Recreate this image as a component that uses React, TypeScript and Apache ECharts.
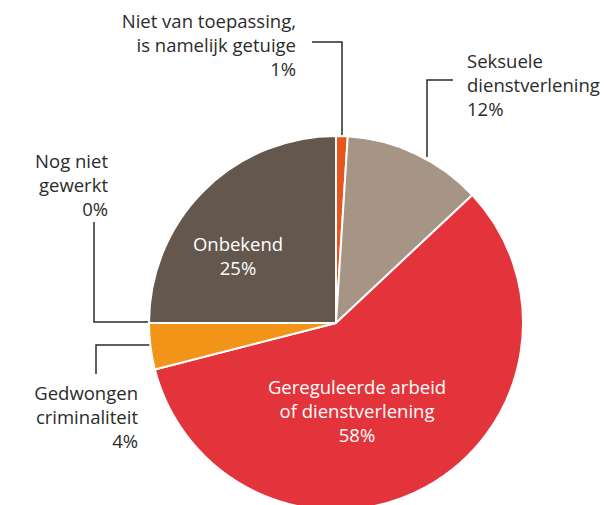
import React, { useEffect, useRef } from "react";
import * as echarts from "echarts";

const categories = [
  "Niet van toepassing,\nis namelijk getuige",
  "Seksuele\ndienstverlening",
  "Gereguleerde arbeid\nof dienstverlening",
  "Gedwongen\ncriminaliteit",
  "Nog niet\ngewerkt",
  "Onbekend",
];
const values = [1, 12, 58, 4, 0, 25];
const colors = ["#e8541e", "#a69585", "#e3343b", "#f29418", "#8a7a6c", "#64574e"];

const CX = 336;
const CY = 323;
const R = 187;

type Layout = {
  x: number;
  y: number;
  align: "left" | "right" | "center";
  inside: boolean;
  line?: number[][];
};
const layouts: Layout[] = [
  { x: 296, y: 8, align: "right", inside: false, line: [[342, 138], [342, 42], [312, 42]] },
  { x: 467, y: 48, align: "left", inside: false, line: [[427, 157], [427, 80], [453, 80]] },
  { x: 357, y: 374, align: "center", inside: true },
  { x: 138, y: 380, align: "right", inside: false, line: [[151, 345], [96, 345], [96, 374]] },
  { x: 108, y: 148, align: "right", inside: false, line: [[151, 322], [94, 322], [94, 222]] },
  { x: 238, y: 231, align: "center", inside: true },
];

export default function App() {
  const ref = useRef<HTMLDivElement>(null);
  useEffect(() => {
    if (!ref.current) return;
    const chart = echarts.init(ref.current, undefined, { renderer: "svg" });
    const data = categories.map((name, i) => ({
      name,
      value: values[i],
      itemStyle: { color: colors[i] },
      label: {
        color: layouts[i].inside ? "#ffffff" : "#2b2b2b",
        align: layouts[i].align,
      },
      labelLine: { show: !layouts[i].inside },
    }));
    chart.setOption({
      animation: false,
      backgroundColor: "#ffffff",
      series: [
        {
          type: "pie",
          center: [CX, CY],
          radius: [0, R],
          startAngle: 90,
          clockwise: true,
          avoidLabelOverlap: false,
          stillShowZeroSum: true,
          minShowLabelAngle: 0,
          itemStyle: { borderColor: "#ffffff", borderWidth: 2 },
          emphasis: { disabled: true },
          label: {
            show: true,
            position: "outside",
            fontFamily: "Open Sans",
            fontSize: 18.5,
            lineHeight: 24,
            formatter: (p: any) => `${p.name}\n${p.value}%`,
          },
          labelLine: {
            show: true,
            lineStyle: { color: "#2b2b2b", width: 1.5 },
          },
          labelLayout: (params: any) => {
            const l = layouts[params.dataIndex];
            const res: any = {
              x: l.x,
              y: l.y,
              align: l.align,
              verticalAlign: "top",
            };
            if (l.line) res.labelLinePoints = l.line;
            return res;
          },
          data,
        },
      ],
    });
    return () => chart.dispose();
  }, []);
  return (
    <div
      ref={ref}
      style={{ position: "fixed", left: 0, top: 0, width: 604, height: 505 }}
    />
  );
}
